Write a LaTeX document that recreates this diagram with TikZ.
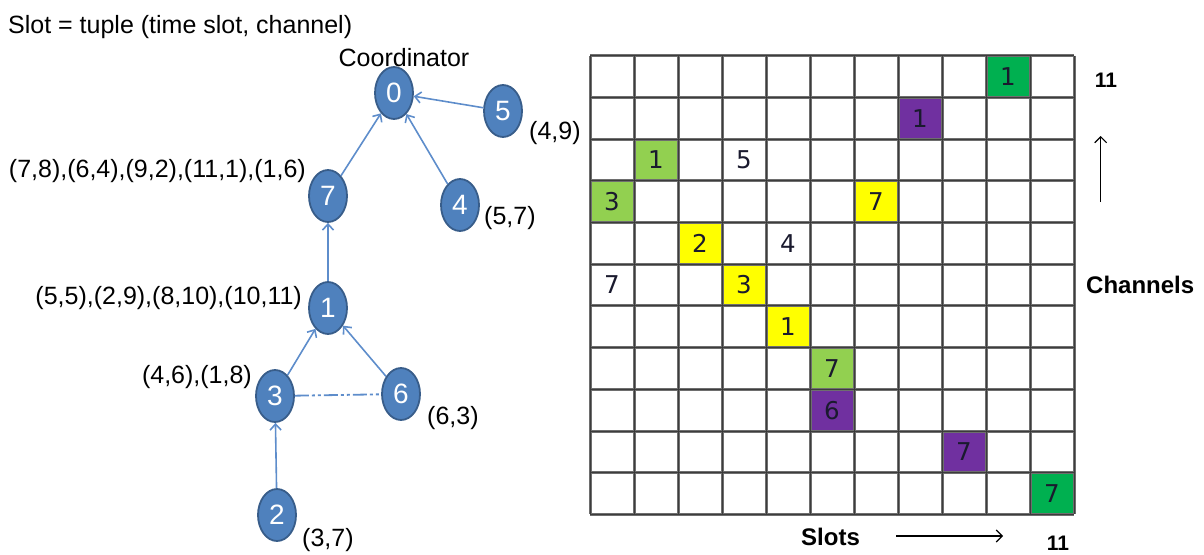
\documentclass[tikz,border=0pt]{standalone}
\usepackage{fontspec}
\setmainfont{Liberation Sans}
\newfontfamily\gridfont{DejaVu Sans}
\usetikzlibrary{shapes.geometric,arrows.meta}
\definecolor{nodefill}{HTML}{4F81BD}
\definecolor{nodeline}{HTML}{385D8A}
\definecolor{edgecol}{HTML}{5E8DCB}
\definecolor{lgreen}{HTML}{92D050}
\definecolor{dgreen}{HTML}{00B050}
\definecolor{purp}{HTML}{7030A0}
\definecolor{yel}{HTML}{FFFF00}
\definecolor{gridcol}{HTML}{6E6E6E}
\definecolor{gridcore}{HTML}{3C3C3C}
\definecolor{celltext}{HTML}{1A1A2E}
\begin{document}
\begin{tikzpicture}[x=1pt,y=-1pt,
  tnode/.style={ellipse, fill=nodefill, draw=nodeline, line width=1.8pt,
    minimum width=38pt, minimum height=52pt, inner sep=0pt, text=white,
    font=\fontsize{28}{28}\selectfont},
  link/.style={draw=edgecol, line width=1.6pt, -{Straight Barb[length=6pt,width=11pt]}},
  lbl/.style={font=\fontsize{25}{25}\selectfont, inner sep=0pt},
  cellbox/.style={minimum width=44pt, minimum height=41.7pt, inner sep=0pt,
    text=celltext, font=\gridfont\fontsize{24.5}{24.5}\selectfont},
  gridline/.style={draw=gridcol, line width=3pt},
  gridcoreline/.style={draw=gridcore, line width=0.9pt},
  axlbl/.style={font=\bfseries\fontsize{24}{24}\selectfont, inner sep=0pt},
  axarrow/.style={draw=black, line width=1.1pt, -{Straight Barb[length=6pt,width=12pt]}}
]
\useasboundingbox (0,0) rectangle (1204,554);

% ---------- tree ----------
\node[tnode] (n0) at (394,93) {0};
\node[tnode] (n5) at (503,111) {5};
\node[tnode] (n7) at (328,196) {7};
\node[tnode] (n4) at (460,205) {4};
\node[tnode] (n1) at (328,308) {1};
\node[tnode] (n3) at (275,396) {3};
\node[tnode] (n6) at (401,394) {6};
\node[tnode] (n2) at (277,515) {2};

\draw[link] (n5) -- (n0);
\draw[link] (n7) -- (n0);
\draw[link] (n4) -- (n0);
\draw[link] (n1) -- (n7);
\draw[link] (n3) -- (n1);
\draw[link] (n6) -- (n1);
\draw[link] (n2) -- (n3);
\draw[draw=edgecol, line width=1.8pt, dash pattern=on 14pt off 3pt on 3pt off 3pt on 3pt off 3pt] (n3) -- (n6);

\node[lbl, anchor=base west] (title) at (8,33) {Slot = tuple (time slot, channel)};
\node[lbl, anchor=base] (coord) at (404,66) {Coordinator};
\node[lbl, anchor=west] (l5) at (529,133) {(4,9)};
\node[lbl, anchor=east] (l7) at (306,171) {(7,8),(6,4),(9,2),(11,1),(1,6)};
\node[lbl, anchor=west] (l4) at (484,218) {(5,7)};
\node[lbl, anchor=east] (l1) at (302,298) {(5,5),(2,9),(8,10),(10,11)};
\node[lbl, anchor=east] (l3) at (252,377) {(4,6),(1,8)};
\node[lbl, anchor=west] (l6) at (427,418) {(6,3)};
\node[lbl, anchor=west] (l2) at (302,540) {(3,7)};

% ---------- grid ----------
\foreach \c/\r/\col/\t in {9/0/dgreen/1, 7/1/purp/1, 1/2/lgreen/1, 3/2/white/5,
  0/3/lgreen/3, 6/3/yel/7, 2/4/yel/2, 4/4/white/4, 0/5/white/7, 3/5/yel/3,
  4/6/yel/1, 5/7/lgreen/7, 5/8/purp/6, 8/9/purp/7, 10/10/dgreen/7} {
  \node[cellbox, fill=\col] (cell-\c-\r) at ({590+44*(\c+0.5)},{55.7+41.7*(\r+0.5)}) {\t};
}
\foreach \i in {0,...,11} {
  \draw[gridline] ({590+44*\i},55.7) -- ({590+44*\i},514.4);
  \draw[gridline] (590,{55.7+41.7*\i}) -- (1074,{55.7+41.7*\i});
}
\foreach \i in {0,...,11} {
  \draw[gridcoreline] ({590+44*\i},55.7) -- ({590+44*\i},514.4);
  \draw[gridcoreline] (590,{55.7+41.7*\i}) -- (1074,{55.7+41.7*\i});
}

\node[axlbl, font=\bfseries\fontsize{21}{21}\selectfont] (ctop) at (1106,80) {11};
\coordinate (upfrom) at (1100.7,202);
\coordinate (upto) at (1100.7,136);
\draw[axarrow] (upfrom) -- (upto);
\node[axlbl, anchor=west] (chan) at (1086,285) {Channels};
\node[axlbl, anchor=west] (slots) at (801,537) {Slots};
\coordinate (rtfrom) at (896,536);
\coordinate (rtto) at (1003,536);
\draw[axarrow] (rtfrom) -- (rtto);
\node[axlbl, font=\bfseries\fontsize{21}{21}\selectfont] (cbot) at (1058,543) {11};
\end{tikzpicture}
\end{document}
